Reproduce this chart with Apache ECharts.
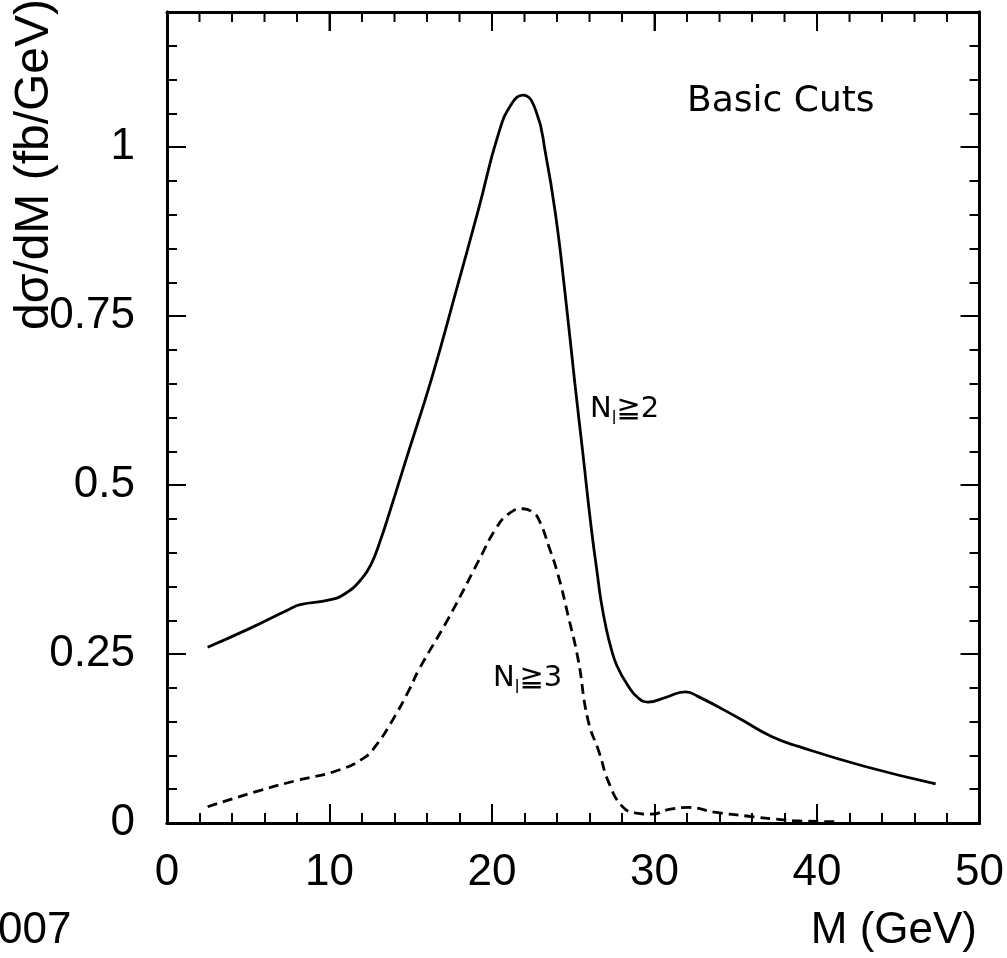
<!DOCTYPE html>
<html>
<head>
<meta charset="utf-8">
<script src="https://cdn.jsdelivr.net/npm/echarts@6/dist/echarts.min.js"></script>
<style>html,body{margin:0;padding:0;background:#fff;}#c{width:1007px;height:958px;}</style>
</head>
<body>
<div id="c"></div>
<script>
// N_l >= 2 (solid)
const n2X = [2.5, 5.1, 7.5, 8.2, 10.0, 11.0, 12.0, 12.6, 13.1, 13.7, 14.7, 16.3, 17.8, 19.2, 20.4, 21.2, 21.9, 22.7, 23.3, 23.9, 24.5, 25.1, 25.6, 26.1, 26.5, 26.7, 27.0, 27.3, 27.7, 28.4, 29.0, 29.6, 30.7, 31.9, 32.7, 35.2, 37.2, 38.9, 42.9, 47.3];
const n2Y = [0.260, 0.288, 0.316, 0.323, 0.330, 0.340, 0.362, 0.385, 0.416, 0.460, 0.537, 0.659, 0.788, 0.911, 1.020, 1.064, 1.077, 1.054, 0.990, 0.902, 0.783, 0.650, 0.545, 0.438, 0.365, 0.330, 0.291, 0.261, 0.232, 0.202, 0.185, 0.179, 0.186, 0.194, 0.187, 0.155, 0.128, 0.113, 0.084, 0.058];
// N_l >= 3 (dashed)
const n3X = [2.5, 5.7, 8.0, 10.4, 12.1, 12.9, 13.9, 14.9, 15.5, 17.3, 19.2, 20.2, 21.0, 21.9, 22.5, 22.9, 23.5, 24.1, 24.7, 25.3, 25.9, 26.6, 27.2, 28.0, 28.8, 29.8, 30.9, 32.1, 33.7, 35.8, 37.8, 38.9, 41.3];
const n3Y = [0.024, 0.048, 0.063, 0.077, 0.096, 0.116, 0.153, 0.197, 0.227, 0.302, 0.389, 0.434, 0.457, 0.465, 0.460, 0.448, 0.409, 0.364, 0.305, 0.242, 0.153, 0.104, 0.059, 0.025, 0.015, 0.013, 0.020, 0.023, 0.016, 0.010, 0.005, 0.003, 0.002];
const xTicks = [0, 10, 20, 30, 40, 50];
const topTicks = [2, 4, 6, 8, 10, 12, 14, 16, 18, 20, 22, 24, 26, 28, 30, 32, 34, 36, 38, 40, 42, 44, 46, 48];
const yTickLabels = ['0', '0.25', '0.5', '0.75', '1'];
const Y_MAX = 1.2;

const chart = echarts.init(document.getElementById('c'));
const lab = {fontFamily: 'Liberation Sans, Arial', fontSize: 44, color: '#000'};
function lineS() { return {show: true, onZero: false, lineStyle: {color: '#000', width: 3}}; }
function xAx(pos, interval, len, showLab) {
  return {type: 'value', gridIndex: 0, position: pos, min: 0, max: 50, interval: interval,
    axisLine: lineS(),
    axisTick: {show: true, inside: true, length: len, lineStyle: {color: '#000', width: 2}},
    splitLine: {show: false},
    axisLabel: showLab ? Object.assign({show: true, margin: 28, formatter: v => xTicks.indexOf(v) >= 0 ? String(v) : ''}, lab) : {show: false}};
}
function yAx(pos, interval, len, showLab) {
  return {type: 'value', gridIndex: 0, position: pos, min: 0, max: Y_MAX, interval: interval,
    axisLine: lineS(),
    axisTick: {show: true, inside: true, length: len, lineStyle: {color: '#000', width: 2}},
    splitLine: {show: false},
    axisLabel: showLab ? Object.assign({show: true, margin: 32, formatter: v => {
      const i = Math.round(v / 0.25); return (Math.abs(v - i * 0.25) < 1e-6 && i < yTickLabels.length) ? yTickLabels[i] : ''; }}, lab) : {show: false}};
}
function nLabel(left, y, k) {
  return {type: 'text', left: left, top: y, style: {
    text: '{a|N}{s|l}{a|≧' + k + '}', fill: '#000',
    rich: {a: {fontFamily: 'DejaVu Sans, Noto Sans CJK SC', fontSize: 29, lineHeight: 34, verticalAlign: 'bottom', color: '#000'},
           s: {fontFamily: 'DejaVu Sans', fontSize: 17, lineHeight: 34, verticalAlign: 'bottom', padding: [0, 0, -4, 0], color: '#000'}}}};
}
chart.setOption({
  animation: false,
  backgroundColor: '#fff',
  grid: {left: 167, right: 25, top: 12, bottom: 135},
  xAxis: [xAx('bottom', 10, 19, true), xAx('bottom', 2, 10, false), xAx('top', 10, 19, false)],
  yAxis: [yAx('left', 0.25, 19, true), yAx('left', 0.05, 10, false), yAx('right', 0.25, 19, false), yAx('right', 0.05, 10, false)],
  series: [
    {type: 'line', xAxisIndex: 0, yAxisIndex: 0, data: n2X.map((x, i) => [x, n2Y[i]]), showSymbol: false, smooth: 0.5,
     lineStyle: {color: '#000', width: 2.8}},
    {type: 'line', xAxisIndex: 0, yAxisIndex: 0, data: n3X.map((x, i) => [x, n3Y[i]]), showSymbol: false, smooth: 0.5,
     lineStyle: {color: '#000', width: 2.8, type: [10, 6]}},
    {type: 'custom', xAxisIndex: 0, yAxisIndex: 0, silent: true, clip: false, z: 10,
     encode: {x: 0, y: 1}, data: topTicks.map(v => [v, Y_MAX]),
     renderItem: (params, api) => {
       const v = api.value(0);
       const p = api.coord([v, api.value(1)]);
       const len = (v % 10 === 0) ? 19 : 10;
       return {type: 'line', shape: {x1: p[0], y1: p[1], x2: p[0], y2: p[1] + len}, style: {stroke: '#000', lineWidth: 2}};
     }}
  ],
  graphic: [
    {type: 'text', left: 687, top: 84, style: {text: 'Basic Cuts', fontFamily: 'DejaVu Sans', fontSize: 36, fill: '#000'}},
    nLabel(590, 395, 2),
    nLabel(493, 664, 3),
    {type: 'text', right: 30, top: 909, style: {text: 'M (GeV)', fontFamily: 'Liberation Sans, Arial', fontSize: 44, fill: '#000'}},
    {type: 'text', left: -2, top: 909, style: {text: '007', fontFamily: 'Liberation Sans, Arial', fontSize: 44, fill: '#000'}},
    {type: 'text', x: 35, y: 330, rotation: Math.PI / 2, style: {text: 'dσ/dM (fb/GeV)', fontFamily: 'Liberation Sans, Arial', fontSize: 48, fill: '#000', align: 'left', verticalAlign: 'middle'}}
  ]
});
</script>
</body>
</html>
